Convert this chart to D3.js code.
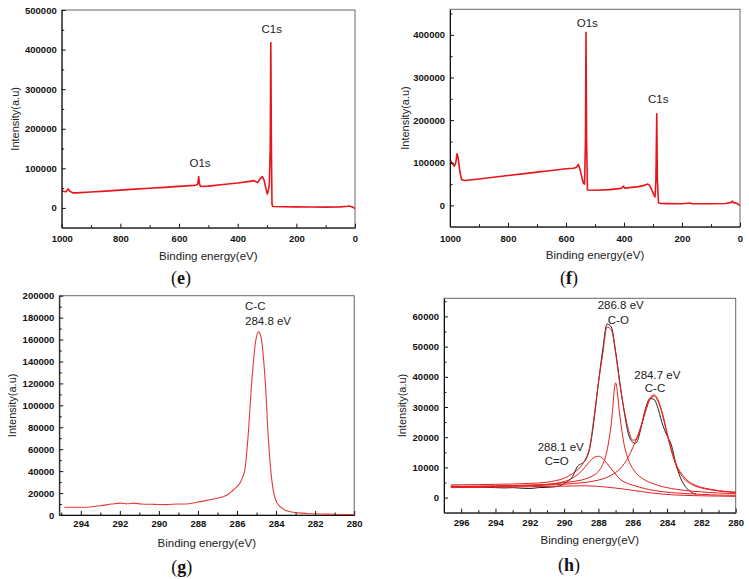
<!DOCTYPE html>
<html><head><meta charset="utf-8">
<script src="https://cdn.jsdelivr.net/npm/d3@7"></script>
<style>
body{margin:0;background:#fff;}
svg{display:block;font-family:"Liberation Sans",Arial,sans-serif;}
.tick text{font-family:"Liberation Sans",Arial,sans-serif;font-weight:bold;font-size:9.5px;fill:#111;}
</style></head>
<body>
<svg id="c" width="749" height="579"></svg>
<script>
// ---------- DATA ----------
// (e) survey spectrum
const eEv  = [1000,995,985,978,972,962,950,900,850,800,750,700,650,600,550,540,536,533,530,526,500,450,400,360,345,338,332,325,316,310,304,299,295,292,289,287,285,283,281,278,250,200,150,100,50,25,20,12,5,0];
const eInt = [44000,42000,41000,48000,42000,38000,38000,40000,42500,45000,47500,49500,52000,54500,57000,58000,60000,79000,60000,54000,55000,59000,63000,67000,69000,66000,64000,72000,79000,70000,50000,35000,45000,62000,150000,418000,150000,10000,4000,3500,3000,2500,2200,2000,2500,4000,5000,3000,1000,-2000];
// (f) survey spectrum
const fEv  = [1000,992,985,980,976,972,966,960,950,900,850,800,750,700,650,600,575,565,557,552,545,540,536,533,531,529,526,500,450,410,402,398,350,330,318,312,305,298,293,290,287,285,281,275,250,200,172,168,100,50,30,26,22,10,0];
const fInt = [107000,98000,92000,100000,121000,112000,80000,60000,58500,62000,66000,70000,74000,78000,82000,86000,87000,89000,96000,85000,65000,52000,50000,150000,406000,150000,36000,35500,37000,40000,45000,40500,44000,47000,50000,47000,38000,26000,20000,60000,215000,60000,6000,4500,4200,4000,5500,4200,4000,4500,7000,10000,6500,4500,0];
// (g) C1s high resolution
const gEv  = [294.84,293.86,293.0,292.4,292.0,291.6,291.3,290.9,290.2,289.6,289.0,288.57,287.9,287.2,286.5,286.2,285.84,285.7,285.59,285.45,285.24,285.05,284.9,284.78,284.56,284.39,284.22,284.05,283.8,283.28,282.43,281.07,280.0];
const gInt = [7000,7100,8500,10000,10800,10300,10800,10000,9700,9500,10000,10000,12200,14600,18200,22800,29500,35000,42000,68000,123000,158000,167000,163000,123000,68000,32000,15200,7600,3000,1400,700,400];
// (h) C1s peak fitting
const hEv   = [296.6,296,295,294,293,292,291,290.5,290,289.5,289,288.75,288.5,288.25,288,287.75,287.5,287.25,287,286.75,286.5,286.25,286,285.75,285.5,285.25,285,284.75,284.5,284.25,284,283.75,283.5,283,282.5,282,281.5,281,280.5,280];
const hBg   = [3300,3350,3400,3450,3500,3600,3700,3750,3800,3850,3900,3900,3850,3800,3700,3600,3450,3300,3150,3000,2800,2600,2400,2200,2000,1800,1600,1450,1300,1150,1050,950,850,750,650,600,550,500,450,400];
const hCeqO = [3600,3650,3700,3800,3900,4050,4350,4700,5300,6500,8700,10300,12000,13300,13700,13000,11300,9500,7800,6100,5200,4600,4100,3700,3300,2950,2600,2350,2150,1950,1800,1650,1550,1350,1200,1050,950,850,800,750];
const hCO   = [3700,3750,3800,3900,4000,4150,4400,4650,4950,5300,5800,6200,6700,7500,8700,11000,15500,24500,38000,27000,17500,12500,9600,7800,6600,5700,5000,4500,4000,3600,3300,3000,2800,2400,2100,1900,1700,1550,1400,1300];
const hCC   = [3500,3550,3600,3700,3800,3950,4150,4300,4450,4650,4900,5050,5250,5500,5800,6200,6700,7400,8300,9500,11200,13500,16500,20000,24000,28500,32500,33600,31500,27000,21000,15500,11000,6200,4200,3200,2600,2200,1900,1700];
const hEnv  = [4200,4250,4300,4400,4500,4700,5100,5600,6400,8000,10500,12800,17000,27000,38000,47500,56500,55500,48000,37500,29000,22500,19000,19500,24000,29500,33000,34000,32000,27500,21500,16000,11500,6800,4500,3400,2800,2300,2000,1800];
const hDataEv  = [296.6,296,295.5,295,294.5,294,293.5,293,292.5,292,291.5,291,290.5,290,289.5,289.2,289,288.75,288.5,288.25,288,287.75,287.5,287.25,287,286.75,286.5,286.25,286,285.85,285.75,285.5,285.25,285,284.75,284.5,284.25,284,283.75,283.5,283.25,283,282.75,282.5,282.3];
const hDataInt = [3800,3700,3600,3500,3400,3300,3200,3300,3100,3000,3300,3400,3600,4600,7000,10500,11200,12500,16500,26000,38000,49000,57500,56500,48500,38000,28500,21000,18300,18000,18500,23500,29500,32800,32500,29000,24000,20500,17500,11500,7000,4200,2500,1500,1200];

// tick values
const eXMajor = [1000,800,600,400,200,0], eXMinor = [900,700,500,300,100];
const eYMajor = [0,100000,200000,300000,400000,500000], eYMinor = [50000,150000,250000,350000,450000];
const fYMajor = [0,100000,200000,300000,400000], fYMinor = [50000,150000,250000,350000,450000];
const gXMajor = [294,292,290,288,286,284,282,280], gXMinor = [295,293,291,289,287,285,283,281];
const gYMajor = [0,20000,40000,60000,80000,100000,120000,140000,160000,180000,200000];
const gYMinor = [10000,30000,50000,70000,90000,110000,130000,150000,170000,190000];
const hXMajor = [296,294,292,290,288,286,284,282,280], hXMinor = [297,295,293,291,289,287,285,283,281];
const hYMajor = [0,10000,20000,30000,40000,50000,60000], hYMinor = [5000,15000,25000,35000,45000,55000,65000];

const svg = d3.select("#c");
const fmt = d3.format("d");

function panel(o){
  const x = d3.scaleLinear().domain(o.xDomain).range([o.left,o.right]);
  const y = d3.scaleLinear().domain(o.yDomain).range([o.bottom,o.top]);
  const g = svg.append("g");
  g.append("rect").attr("x",o.left).attr("y",o.top).attr("width",o.right-o.left).attr("height",o.bottom-o.top)
    .attr("fill","none").attr("stroke","#666").attr("stroke-width",1);
  const clipId = "clip"+o.id;
  svg.append("clipPath").attr("id",clipId).append("rect")
    .attr("x",o.left).attr("y",o.top).attr("width",o.right-o.left).attr("height",o.bottom-o.top);
  const lg = g.append("g").attr("clip-path","url(#"+clipId+")");
  o.series.forEach(s=>{
    const pts = s.ev.map((e,i)=>[e,s.val[i]]);
    const line = d3.line().x(d=>x(d[0])).y(d=>y(d[1])).curve(s.curve||d3.curveLinear);
    lg.append("path").attr("d",line(pts)).attr("fill","none")
      .attr("stroke",s.color).attr("stroke-width",s.width).attr("stroke-linejoin","round");
  });
  const xa = g.append("g").attr("transform",`translate(0,${o.bottom})`)
    .call(d3.axisBottom(x).tickValues(o.xMajor).tickFormat(fmt).tickSize(-4).tickSizeOuter(0).tickPadding(o.xPad));
  const xm = g.append("g").attr("transform",`translate(0,${o.bottom})`)
    .call(d3.axisBottom(x).tickValues(o.xMinor).tickFormat("").tickSize(-2.5).tickSizeOuter(0));
  const ya = g.append("g").attr("transform",`translate(${o.left},0)`)
    .call(d3.axisLeft(y).tickValues(o.yMajor).tickFormat(fmt).tickSize(-4).tickSizeOuter(0).tickPadding(5));
  const ym = g.append("g").attr("transform",`translate(${o.left},0)`)
    .call(d3.axisLeft(y).tickValues(o.yMinor).tickFormat("").tickSize(-2.5).tickSizeOuter(0));
  [xa,xm,ya,ym].forEach(a=>{a.selectAll(".domain").attr("stroke","#111");a.selectAll("line").attr("stroke","#111");});
  xm.select(".domain").remove(); ym.select(".domain").remove();
  g.append("text").attr("x",(o.left+o.right)/2).attr("y",o.xTitleY).attr("dy","0.35em")
    .attr("text-anchor","middle").attr("font-size","11.5px").attr("fill","#222").text("Binding energy(eV)");
  g.append("text").attr("transform",`translate(${o.yTitleX},${(o.top+o.bottom)/2}) rotate(-90)`).attr("dy","0.35em")
    .attr("text-anchor","middle").attr("font-size","11px").attr("fill","#222").text("Intensity(a.u)");
  o.notes.forEach(n=>{
    g.append("text").attr("x",n[1]).attr("y",n[2]).attr("dy","0.35em").attr("text-anchor",n[3]||"middle")
      .attr("font-size","11.5px").attr("fill","#222").text(n[0]);
  });
  const t = g.append("text").attr("x",o.label[1]).attr("y",o.label[2]).attr("dy","0.35em").attr("text-anchor","middle")
    .attr("font-family","'Liberation Serif','DejaVu Serif',serif").attr("font-size","18px").attr("fill","#111");
  t.append("tspan").text("(");
  t.append("tspan").attr("font-weight","bold").text(o.label[0]);
  t.append("tspan").text(")");
}

const RED = "#e8151b";
panel({id:"e",left:61.7,right:355,top:10,bottom:227.7,xDomain:[1000,0],yDomain:[-50000,500000],
  xMajor:eXMajor,xMinor:eXMinor,yMajor:eYMajor,yMinor:eYMinor,xPad:7.3,xTitleY:256,yTitleX:15,
  series:[{ev:eEv,val:eInt,color:RED,width:1.6}],
  notes:[["O1s",200,163.3],["C1s",271.7,29.3]],label:["e",181,278]});
panel({id:"f",left:450,right:740,top:9.3,bottom:226.7,xDomain:[1000,0],yDomain:[-50000,460000],
  xMajor:eXMajor,xMinor:eXMinor,yMajor:fYMajor,yMinor:fYMinor,xPad:8.3,xTitleY:255,yTitleX:405,
  series:[{ev:fEv,val:fInt,color:RED,width:1.6}],
  notes:[["O1s",587.3,22.7],["C1s",658.3,99.3]],label:["f",569,278]});
panel({id:"g",left:59.3,right:354.2,top:295.7,bottom:515,xDomain:[295.1,280],yDomain:[0,200000],
  xMajor:gXMajor,xMinor:gXMinor,yMajor:gYMajor,yMinor:gYMinor,xPad:5,xTitleY:543.3,yTitleX:11.7,
  series:[{ev:gEv,val:gInt,color:"#e23a36",width:1.1,curve:d3.curveMonotoneX}],
  notes:[["C-C",245,306,"start"],["284.8 eV",245,320.7,"start"]],label:["g",181.7,566.7]});
const HR = "#e31e1e";
panel({id:"h",left:444,right:735.7,top:298.3,bottom:512.7,xDomain:[297,280],yDomain:[-5000,66000],
  xMajor:hXMajor,xMinor:hXMinor,yMajor:hYMajor,yMinor:hYMinor,xPad:6.3,xTitleY:540,yTitleX:401.7,
  series:[
    {ev:hDataEv,val:hDataInt,color:"#222",width:1,curve:d3.curveMonotoneX},
    {ev:hEv,val:hBg,color:HR,width:1,curve:d3.curveMonotoneX},
    {ev:hEv,val:hCeqO,color:HR,width:1,curve:d3.curveMonotoneX},
    {ev:hEv,val:hCO,color:HR,width:1,curve:d3.curveMonotoneX},
    {ev:hEv,val:hCC,color:HR,width:1,curve:d3.curveMonotoneX},
    {ev:hEv,val:hEnv,color:HR,width:1,curve:d3.curveMonotoneX}],
  notes:[["286.8 eV",620.7,305],["C-O",618.3,320],["284.7 eV",657.3,375],["C-C",655,388.3],["288.1 eV",560.7,446.7],["C=O",556.7,461]],
  label:["h",569,565]});
</script>
</body></html>
